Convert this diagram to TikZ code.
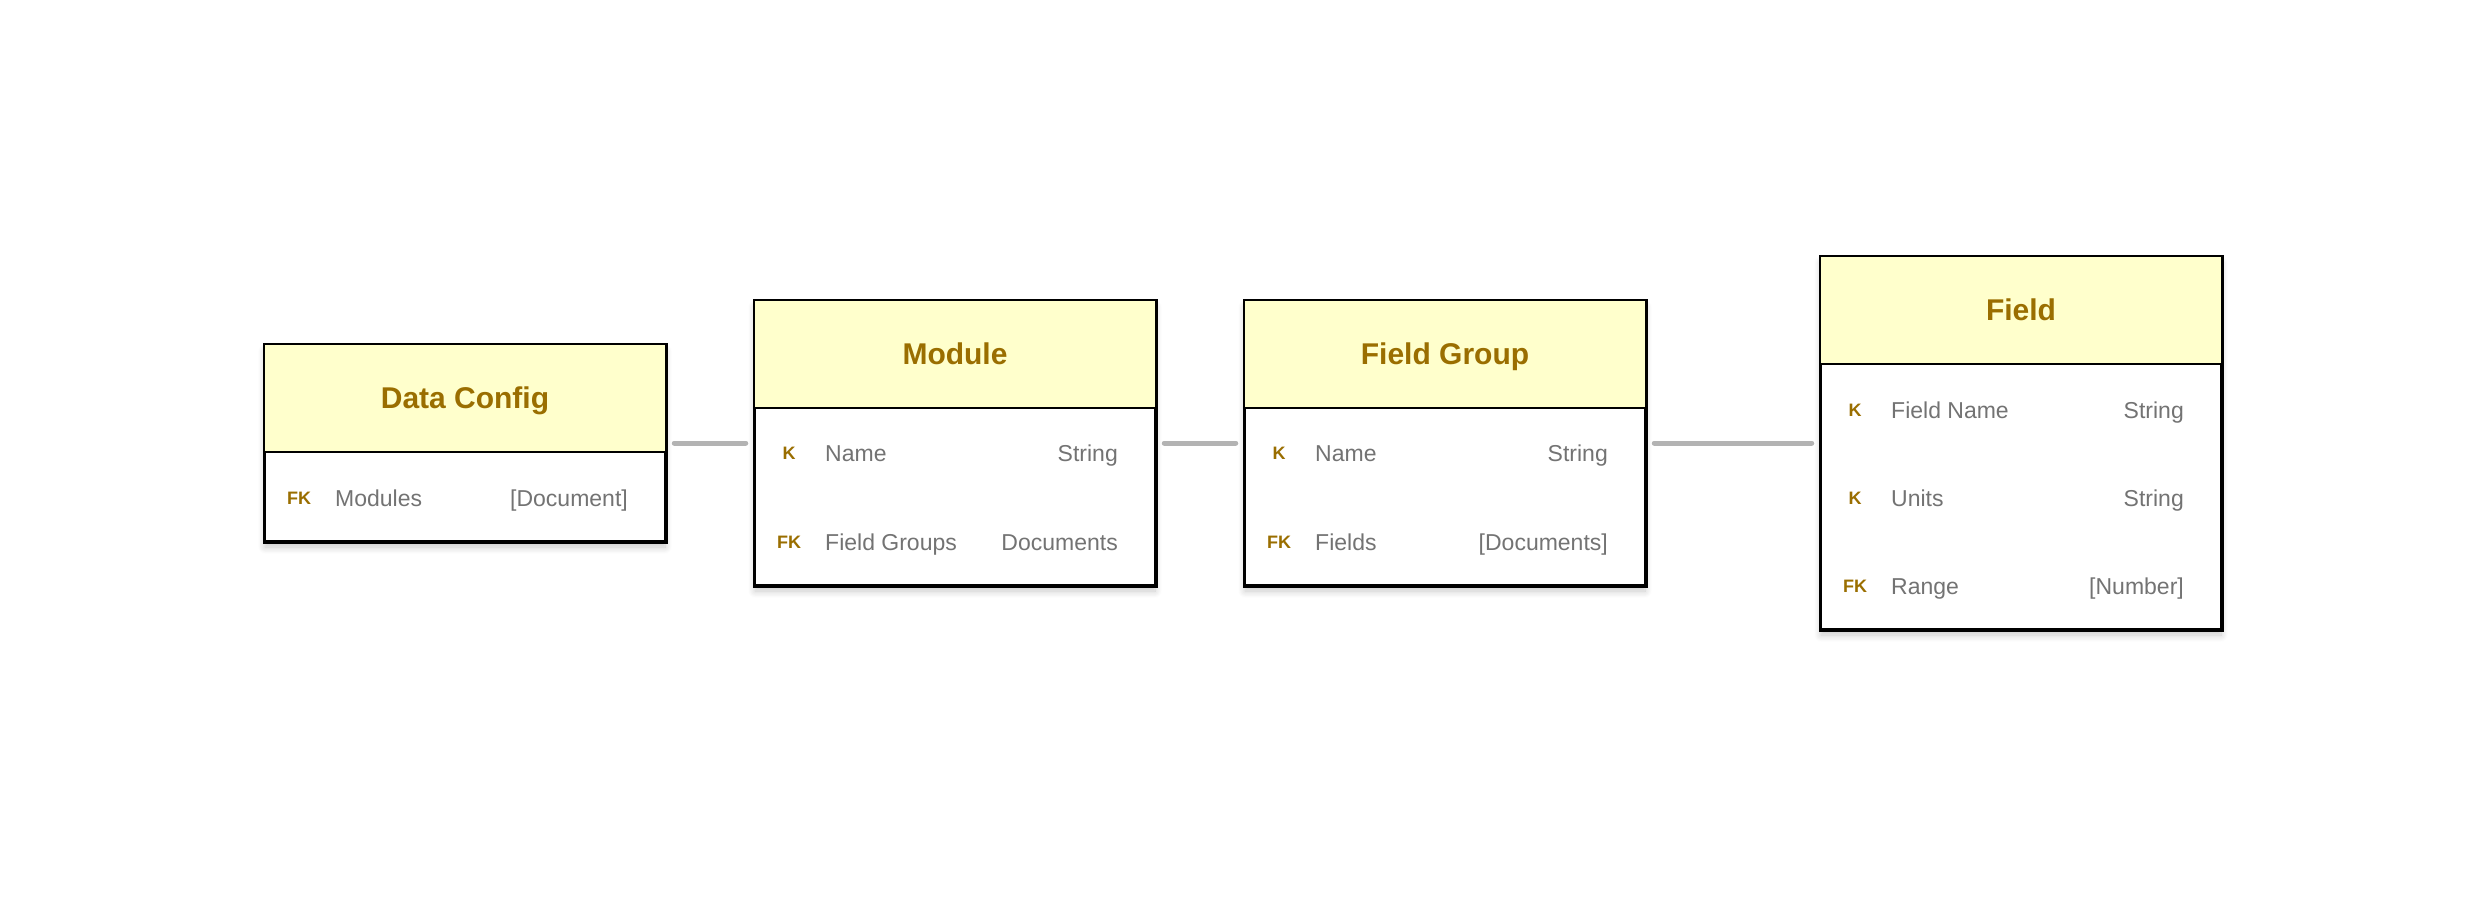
\documentclass[tikz,border=0pt]{standalone}
\usepackage{fontspec}
\setmainfont{Liberation Sans}
\usetikzlibrary{shadows.blur}
\definecolor{hdrfill}{HTML}{FFFFCC}
\definecolor{titlecol}{HTML}{9A6E00}
\definecolor{bodycol}{HTML}{737373}
\definecolor{linkcol}{HTML}{B3B3B3}
\tikzset{
  tablebox/.style={draw=black, line width=2.5pt, fill=white, minimum width=400pt, inner sep=0pt,
    blur shadow={shadow xshift=0pt, shadow yshift=-6pt, shadow blur radius=7pt, shadow blur steps=10, shadow opacity=22}},
  hdr/.style={fill=hdrfill},
  titletext/.style={text=titlecol, font=\fontsize{30}{36}\selectfont\bfseries, text height=22pt, text depth=0pt, inner sep=0pt},
  keytext/.style={text=titlecol, font=\fontsize{18}{22}\selectfont\bfseries, text height=13pt, text depth=0pt, inner sep=0pt},
  nametext/.style={text=bodycol, font=\fontsize{23}{28}\selectfont, anchor=west, text height=17pt, text depth=0pt, inner sep=0pt},
  typetext/.style={text=bodycol, font=\fontsize{23}{28}\selectfont, anchor=east, text height=17pt, text depth=0pt, inner sep=0pt},
  link/.style={draw=linkcol, line width=5pt, line cap=round, shorten >=8pt, shorten <=8pt}
}
\begin{document}
\begin{tikzpicture}[x=1pt,y=-1pt]
\useasboundingbox (0,0) rectangle (2486,902);
% tables
\node[tablebox, minimum height=196pt] (dc) at (465,443) {};
\node[tablebox, minimum height=284pt] (mod) at (955,443) {};
\node[tablebox, minimum height=284pt] (fg) at (1445,443) {};
\node[tablebox, minimum height=372pt] (fld) at (2021,443) {};
% headers
\foreach \t in {dc,mod,fg,fld}{
  \path[hdr] (\t.north west) rectangle ([yshift=-108pt]\t.north east);
  \draw[line width=2.5pt] ([yshift=-108pt]\t.north west) -- ([yshift=-108pt]\t.north east);
  \draw[line width=2.5pt] (\t.north west) rectangle (\t.south east);
}
% titles
\node[titletext] (dct) at ([yshift=-54pt]dc.north) {Data Config};
\node[titletext] (modt) at ([yshift=-54pt]mod.north) {Module};
\node[titletext] (fgt) at ([yshift=-54pt]fg.north) {Field Group};
\node[titletext] (fldt) at ([yshift=-54pt]fld.north) {Field};
% Data Config rows
\node[keytext] (dck1) at (299,498) {FK};
\node[nametext] (dcn1) at (335,498) {Modules};
\node[typetext] (dcy1) at (628,498) {[Document]};
% Module rows
\node[keytext] (modk1) at (789,453) {K};
\node[nametext] (modn1) at (825,453) {Name};
\node[typetext] (mody1) at (1118,453) {String};
\node[keytext] (modk2) at (789,542) {FK};
\node[nametext] (modn2) at (825,542) {Field Groups};
\node[typetext] (mody2) at (1118,542) {Documents};
% Field Group rows
\node[keytext] (fgk1) at (1279,453) {K};
\node[nametext] (fgn1) at (1315,453) {Name};
\node[typetext] (fgy1) at (1608,453) {String};
\node[keytext] (fgk2) at (1279,542) {FK};
\node[nametext] (fgn2) at (1315,542) {Fields};
\node[typetext] (fgy2) at (1608,542) {[Documents]};
% Field rows
\node[keytext] (fldk1) at (1855,410) {K};
\node[nametext] (fldn1) at (1891,410) {Field Name};
\node[typetext] (fldy1) at (2184,410) {String};
\node[keytext] (fldk2) at (1855,498) {K};
\node[nametext] (fldn2) at (1891,498) {Units};
\node[typetext] (fldy2) at (2184,498) {String};
\node[keytext] (fldk3) at (1855,586) {FK};
\node[nametext] (fldn3) at (1891,586) {Range};
\node[typetext] (fldy3) at (2184,586) {[Number]};
% connectors
\draw[link] (dc.east) -- (mod.west);
\draw[link] (mod.east) -- (fg.west);
\draw[link] (fg.east) -- (fld.west);
\end{tikzpicture}
\end{document}
